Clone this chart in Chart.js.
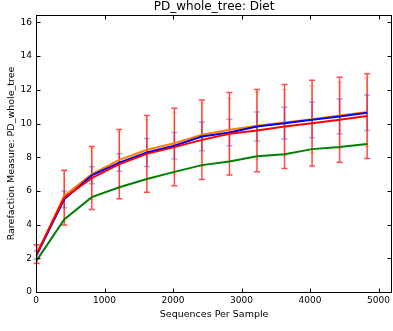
<!DOCTYPE html>
<html>
<head>
<meta charset="utf-8">
<script src="https://cdn.jsdelivr.net/npm/chart.js@4"></script>
<style>
  html, body { margin: 0; padding: 0; background: #fff; }
  #wrap { width: 393px; height: 331px; }
</style>
</head>
<body>
<div id="wrap"><canvas id="grafico"></canvas></div>
<script>
const seqPerSample = [10, 412, 814, 1216, 1618, 2020, 2422, 2824, 3226, 3628, 4030, 4432, 4834];
const xTicks = [0, 1000, 2000, 3000, 4000, 5000];
const yTicks = [0, 2, 4, 6, 8, 10, 12, 14, 16];

const orangeMean = [2.25, 5.7, 7.0, 7.84, 8.44, 8.83, 9.33, 9.63, 9.87, 10.06, 10.26, 10.48, 10.68];
const orangeErr = [0.5, 1.5, 1.5, 1.68, 1.78, 1.83, 1.88, 1.86, 2.0, 1.96, 2.0, 1.96, 2.03];
const blueMean = [2.2, 5.5, 6.93, 7.68, 8.28, 8.68, 9.23, 9.47, 9.82, 10.02, 10.22, 10.42, 10.64];
const blueErr = [0.25, 0.5, 0.5, 0.52, 0.83, 0.78, 0.84, 0.79, 0.86, 0.94, 1.06, 1.04, 1.05];
const redMean = [2.25, 5.6, 6.76, 7.59, 8.2, 8.6, 9.03, 9.39, 9.58, 9.82, 10.02, 10.22, 10.44];
const redErr = [0.56, 1.62, 1.87, 2.06, 2.28, 2.3, 2.36, 2.45, 2.44, 2.49, 2.54, 2.52, 2.51];
const greenMean = [1.88, 4.3, 5.63, 6.22, 6.71, 7.13, 7.53, 7.74, 8.05, 8.18, 8.48, 8.6, 8.79];

const fonte = "'DejaVu Sans', sans-serif";

function pontos(valores) {
  return seqPerSample.map((x, i) => ({ x: x, y: valores[i] }));
}

// orange first, red last so the red bars sit on top
const barrasErro = [
  { mean: orangeMean, err: orangeErr, color: "rgba(255,140,0,0.3)" },
  { mean: blueMean, err: blueErr, color: "rgba(0,0,255,0.35)" },
  { mean: redMean, err: redErr, color: "rgba(255,0,0,0.7)" },
];

const errorBarPlugin = {
  id: "errorBars",
  beforeDatasetsDraw(chart) {
    const ctx = chart.ctx;
    const sx = chart.scales.x;
    const sy = chart.scales.y;
    ctx.save();
    ctx.lineWidth = 1.5;
    barrasErro.forEach(b => {
      ctx.strokeStyle = b.color;
      seqPerSample.forEach((xv, i) => {
        const px = sx.getPixelForValue(xv);
        const top = sy.getPixelForValue(b.mean[i] + b.err[i]);
        const bot = sy.getPixelForValue(b.mean[i] - b.err[i]);
        ctx.beginPath();
        ctx.moveTo(px, top);
        ctx.lineTo(px, bot);
        ctx.moveTo(px - 3, top);
        ctx.lineTo(px + 3, top);
        ctx.moveTo(px - 3, bot);
        ctx.lineTo(px + 3, bot);
        ctx.stroke();
      });
    });
    ctx.restore();
  },
};

// frame and inward ticks, matplotlib style
const moldura = {
  id: "moldura",
  afterDraw(chart) {
    const ctx = chart.ctx;
    const a = chart.chartArea;
    const sx = chart.scales.x;
    const sy = chart.scales.y;
    ctx.save();
    ctx.strokeStyle = "#000";
    ctx.lineWidth = 1;
    const l = Math.round(a.left) + 0.5, r = Math.round(a.right) - 0.5;
    const t = Math.round(a.top) + 0.5, bt = Math.round(a.bottom) + 0.5;
    ctx.strokeRect(l, t, r - l, bt - t);
    ctx.beginPath();
    xTicks.forEach(v => {
      const px = Math.round(sx.getPixelForValue(v)) + 0.5;
      ctx.moveTo(px, bt); ctx.lineTo(px, bt - 4);
      ctx.moveTo(px, t); ctx.lineTo(px, t + 4);
    });
    yTicks.forEach(v => {
      const py = Math.round(sy.getPixelForValue(v)) + 0.5;
      ctx.moveTo(l, py); ctx.lineTo(l + 4, py);
      ctx.moveTo(r, py); ctx.lineTo(r - 4, py);
    });
    ctx.stroke();
    ctx.restore();
  },
};

function serie(valores, cor) {
  return {
    data: pontos(valores),
    borderColor: cor,
    backgroundColor: cor,
    borderWidth: 2,
    pointRadius: 0,
    tension: 0,
    fill: false,
  };
}

const ctx = document.getElementById("grafico").getContext("2d");
new Chart(ctx, {
  type: "line",
  data: {
    datasets: [
      serie(redMean, "#ff0000"),
      serie(blueMean, "#0000ff"),
      serie(orangeMean, "#ff8000"),
      serie(greenMean, "#008000"),
    ],
  },
  options: {
    responsive: true,
    maintainAspectRatio: false,
    animation: false,
    layout: { padding: 0 },
    plugins: {
      legend: { display: false },
      tooltip: { enabled: false },
      title: {
        display: true,
        fullSize: false,
        text: "PD_whole_tree: Diet",
        color: "#000",
        font: { family: fonte, size: 12, weight: "normal" },
        padding: { top: 0, bottom: 0.6 },
      },
    },
    scales: {
      x: {
        type: "linear",
        min: 0,
        max: 5200,
        grid: { display: false, drawTicks: false },
        border: { display: false },
        afterBuildTicks: s => { s.ticks = xTicks.map(v => ({ value: v })); },
        afterFit: s => { s.height = 39; },
        ticks: {
          color: "#000",
          padding: 3,
          maxRotation: 0,
          font: { family: fonte, size: 9 },
          callback: v => String(v),
        },
        title: {
          display: true,
          text: "Sequences Per Sample",
          color: "#000",
          font: { family: fonte, size: 9.5 },
          padding: { top: 0, bottom: 11 },
        },
      },
      y: {
        type: "linear",
        min: 0,
        max: 16.44,
        grid: { display: false, drawTicks: false },
        border: { display: false },
        afterBuildTicks: s => { s.ticks = yTicks.map(v => ({ value: v })); },
        afterFit: s => { s.width = 36; },
        ticks: {
          color: "#000",
          padding: 4,
          font: { family: fonte, size: 9 },
          callback: v => String(v),
        },
        title: {
          display: true,
          text: "Rarefaction Measure: PD_whole_tree",
          color: "#000",
          font: { family: fonte, size: 9.5 },
          padding: { top: 6, bottom: 0 },
        },
      },
    },
  },
  plugins: [errorBarPlugin, moldura],
});
</script>
</body>
</html>
